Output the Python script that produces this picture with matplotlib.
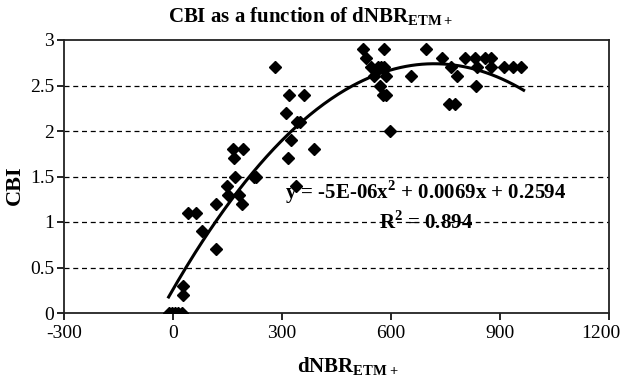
import numpy as np
import matplotlib
matplotlib.use("Agg")
from matplotlib import pyplot as plt
from matplotlib.transforms import ScaledTranslation

plt.rcParams["font.family"] = "Liberation Serif"
plt.rcParams["mathtext.fontset"] = "custom"
plt.rcParams["mathtext.rm"] = "Liberation Serif"
plt.rcParams["mathtext.bf"] = "Liberation Serif:bold"
plt.rcParams["axes.unicode_minus"] = False

# field plots: dNBR (ETM+) vs composite burn index
dnbr = [-12, -3, 6, 15, 24, 28, 28, 42, 63, 79, 117, 117, 149, 152, 166, 168, 170,
        182, 191, 193, 222, 228, 280, 312, 317, 320, 326, 340, 350, 361, 338, 388,
        523, 532, 546, 552, 564, 569, 573, 578, 582, 585, 587, 582, 596, 656, 695,
        741, 759, 765, 775, 781, 805, 830, 836, 834, 860, 876, 874, 912, 935, 958]
cbi = [0, 0, 0, 0, 0, 0.3, 0.2, 1.1, 1.1, 0.9, 0.7, 1.2, 1.4, 1.3, 1.8, 1.7, 1.5,
       1.3, 1.2, 1.8, 1.5, 1.5, 2.7, 2.2, 1.7, 2.4, 1.9, 2.1, 2.1, 2.4, 1.4, 1.8,
       2.9, 2.8, 2.7, 2.6, 2.7, 2.5, 2.7, 2.4, 2.9, 2.6, 2.4, 2.7, 2.0, 2.6, 2.9,
       2.8, 2.3, 2.7, 2.3, 2.6, 2.8, 2.8, 2.7, 2.5, 2.8, 2.8, 2.7, 2.7, 2.7, 2.7]

# polynomial trendline (unrounded leading coefficient)
coef = [-4.8e-06, 0.0069, 0.2594]
fit_range = [-12, 965]

fig = plt.figure(figsize=(6.22, 3.8), dpi=100)
ax = fig.add_axes([64 / 622, 1 - 313 / 380, 545 / 622, 273 / 380])

xs = np.linspace(fit_range[0], fit_range[1], 200)
ax.plot(xs, np.polyval(coef, xs), color="black", lw=2.2, zorder=3)
ax.plot(dnbr, cbi, ls="none", marker="D", ms=6, color="black", zorder=4)

ax.set_xlim(-300, 1200)
ax.set_ylim(0, 3)
ax.set_xticks([-300, 0, 300, 600, 900, 1200])
ax.set_yticks([0, 0.5, 1, 1.5, 2, 2.5, 3])
ax.set_yticklabels(["0", "0.5", "1", "1.5", "2", "2.5", "3"])
for y in [0.5, 1, 1.5, 2, 2.5]:
    ax.axhline(y, color="black", lw=0.9, ls=(0, (4, 3)), zorder=1)

ax.tick_params(direction="out", length=5, width=1.2, labelsize=14, pad=2, color="black")
ax.tick_params(axis="x", pad=4)
for sp in ax.spines.values():
    sp.set_linewidth(1.3)
    sp.set_color("#222222")

# keep "1200" inside the figure edge
last = ax.get_xticklabels()[-1]
last.set_transform(last.get_transform() + ScaledTranslation(-8 / 100, 0, fig.dpi_scale_trans))

ax.set_xlabel(r"dNBR$_{\mathbf{ETM+}}$", fontsize=15, fontweight="bold")
ax.xaxis.set_label_coords(0.52, -0.155)
ax.set_ylabel("CBI", fontsize=16, fontweight="bold")
ax.yaxis.set_label_coords(-0.072, 0.47)
fig.text(0.5, 0.955, r"CBI as a function of dNBR$_{\mathbf{ETM+}}$", ha="center",
         va="center", fontsize=15, fontweight="bold")

ax.text(0.663, 0.443, r"y = -5E-06x$^{\mathbf{2}}$ + 0.0069x + 0.2594", transform=ax.transAxes,
        ha="center", va="center", fontsize=15, fontweight="bold")
ax.text(0.665, 0.33, r"R$^{\mathbf{2}}$ = 0.894", transform=ax.transAxes,
        ha="center", va="center", fontsize=15, fontweight="bold")

fig.savefig("out.png", dpi=100)
